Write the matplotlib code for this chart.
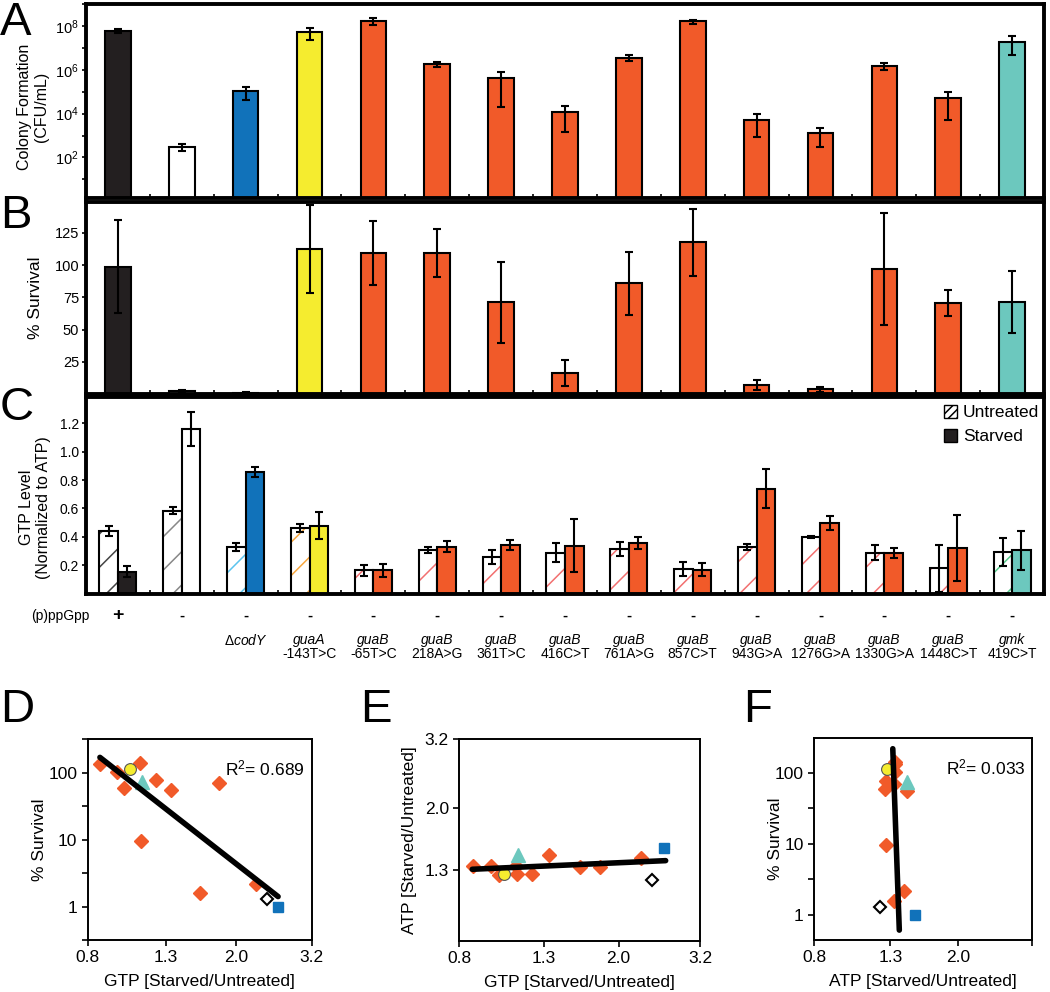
import numpy as np
import matplotlib
matplotlib.use('Agg')
import matplotlib.pyplot as plt
from matplotlib.patches import Patch
from matplotlib.ticker import FixedLocator, NullFormatter, NullLocator, FixedFormatter

plt.rcParams['font.family'] = ['Liberation Sans', 'DejaVu Sans']
plt.rcParams['mathtext.fontset'] = 'custom'
plt.rcParams['mathtext.rm'] = 'Liberation Sans'
plt.rcParams['mathtext.it'] = 'Liberation Sans:italic'
plt.rcParams['hatch.linewidth'] = 1.1

# strains (15)
genes = ['', '', r'$\Delta\mathit{codY}$', 'guaA'] + ['guaB'] * 10 + ['gmk']
mutations = ['', '', '', '-143T>C', '-65T>C', '218A>G', '361T>C', '416C>T', '761A>G',
             '857C>T', '943G>A', '1276G>A', '1330G>A', '1448C>T', '419C>T']
ppgpp = ['+'] + ['-'] * 14

# A: colony formation (CFU/mL)
cfu = [5.9e7, 3.0e2, 1.07e5, 5.2e7, 1.7e8, 1.8e6, 4.0e5, 1.15e4, 3.6e6, 1.6e8,
       5.3e3, 1.3e3, 1.5e6, 5.3e4, 1.9e7]
cfu_err = [1.1e7, 1.1e2, 6.5e4, 2.9e7, 5.5e7, 4.5e5, 3.8e5, 1.0e4, 1.1e6, 3.5e7,
           4.4e3, 1.0e3, 5.5e5, 4.8e4, 1.45e7]

# B: % survival
survival = [98.7, 2.2, 0.9, 112.4, 109.5, 109.5, 71.1, 16.5, 85.8, 117.8,
            7.2, 3.6, 97.1, 70.4, 71.4]
surv_err = [36, 0.6, 0.3, 34, 25, 18.5, 31.6, 10, 24.7, 26, 4, 1.8, 43.4, 10, 24]

# C: GTP level (normalized to ATP)
gtp_untr = [0.44, 0.585, 0.33, 0.463, 0.165, 0.308, 0.256, 0.289, 0.312, 0.174,
            0.327, 0.40, 0.289, 0.179, 0.296]
gtp_untr_err = [0.037, 0.023, 0.027, 0.03, 0.037, 0.022, 0.05, 0.067, 0.05, 0.05,
                0.022, 0.006, 0.052, 0.165, 0.098]
gtp_starv = [0.155, 1.162, 0.857, 0.479, 0.165, 0.331, 0.343, 0.338, 0.357, 0.169,
             0.74, 0.50, 0.287, 0.324, 0.305]
gtp_starv_err = [0.04, 0.12, 0.034, 0.095, 0.045, 0.037, 0.037, 0.185, 0.043, 0.045,
                 0.135, 0.048, 0.035, 0.233, 0.136]

# D-F scatter (guaB mutants)
gtp_ratio_o = [0.865, 0.958, 1.003, 1.106, 1.113, 1.218, 1.34, 1.60, 1.80, 2.27]
surv_o = [133, 103, 58.5, 141, 9.7, 77, 55, 1.58, 69.5, 2.16]
atp_ratio_o = [1.34, 1.34, 1.26, 1.34, 1.265, 1.265, 1.445, 1.33, 1.33, 1.42]
# other strains: guaA, gmk, (p)ppGpp0, codY
gtp_ratio_s = [1.037, 1.12, 2.42, 2.60]
surv_s = [113, 73, 1.3, 1.0]
atp_ratio_s = [1.27, 1.445, 1.22, 1.52]

fitD_x, fitD_y = [0.863, 2.6], [170, 1.41]
fitE_x, fitE_y = [0.862, 2.62], [1.31, 1.39]
fitF_x, fitF_y = [1.32, 1.376], [216, 0.615]

BLACK = '#231F20'
ORANGE = '#F15A29'
BLUE = '#1172BA'
YELLOW = '#F5EC2F'
TEAL = '#6CC8BE'
colors = [BLACK, 'white', BLUE, YELLOW] + [ORANGE] * 10 + [TEAL]
hatch_colors = ['#444444', '#888888', '#5BC4EE', '#F7A740'] + ['#F27070'] * 10 + ['#55C98A']

x = np.arange(len(genes))

fig = plt.figure(figsize=(10.5, 9.92), dpi=100)
axA = fig.add_axes([0.0819, 0.8004, 0.9124, 0.1956])
axB = fig.add_axes([0.0819, 0.6028, 0.9124, 0.1935])
axC = fig.add_axes([0.0819, 0.4015, 0.9124, 0.1983])


def style_top(ax):
    for s in ax.spines.values():
        s.set_linewidth(2.8)
    ax.set_xlim(-0.5, len(genes) - 0.5)
    ax.xaxis.set_major_locator(FixedLocator(x[:-1] + 0.5))
    ax.xaxis.set_major_formatter(NullFormatter())
    ax.tick_params(axis='x', direction='in', length=3, width=1.2)
    ax.tick_params(axis='y', direction='out', length=3, width=1.2, labelsize=10.5, pad=2)
    ax.tick_params(axis='y', which='minor', direction='out', length=3, width=1.2)


# A
axA.set_yscale('log')
axA.bar(x, cfu, width=0.4, color=colors, edgecolor='black', linewidth=1.5, zorder=2)
axA.errorbar(x, cfu, yerr=cfu_err, fmt='none', ecolor='black', elinewidth=1.5,
             capsize=3, capthick=1.5, zorder=3)
axA.set_ylim(10 ** 0.15, 1e9)
axA.yaxis.set_major_locator(FixedLocator([1e2, 1e4, 1e6, 1e8]))
axA.yaxis.set_minor_locator(FixedLocator([1e1, 1e3, 1e5, 1e7, 1e9]))
axA.yaxis.set_minor_formatter(NullFormatter())
style_top(axA)
axA.set_ylabel('Colony Formation\n(CFU/mL)', fontsize=11.5, linespacing=1.1)
axA.yaxis.set_label_coords(-0.039, 0.47)

# B
axB.bar(x, survival, width=0.4, color=colors, edgecolor='black', linewidth=1.5, zorder=2)
axB.errorbar(x, survival, yerr=surv_err, fmt='none', ecolor='black', elinewidth=1.5,
             capsize=3, capthick=1.5, zorder=3)
axB.set_ylim(0, 149)
axB.yaxis.set_major_locator(FixedLocator([25, 50, 75, 100, 125]))
style_top(axB)
axB.set_ylabel('% Survival', fontsize=12.5)
axB.yaxis.set_label_coords(-0.045, 0.5)

# C
w = 0.29
xu = x - w / 2
xs = x + w / 2
for i in range(len(x)):
    axC.bar(xu[i], gtp_untr[i], width=w, color='white', edgecolor=hatch_colors[i],
            hatch='/', linewidth=0, zorder=2)
axC.bar(xu, gtp_untr, width=w, color='none', edgecolor='black', linewidth=1.5, zorder=2)
axC.bar(xs, gtp_starv, width=w, color=colors, edgecolor='black', linewidth=1.5, zorder=2)
axC.errorbar(xu, gtp_untr, yerr=gtp_untr_err, fmt='none', ecolor='black', elinewidth=1.5,
             capsize=3, capthick=1.5, zorder=3)
axC.errorbar(xs, gtp_starv, yerr=gtp_starv_err, fmt='none', ecolor='black', elinewidth=1.5,
             capsize=3, capthick=1.5, zorder=3)
axC.set_ylim(0, 1.385)
axC.yaxis.set_major_locator(FixedLocator([0.2, 0.4, 0.6, 0.8, 1.0, 1.2]))
axC.yaxis.set_major_formatter(FixedFormatter(['0.2', '0.4', '0.6', '0.8', '1.0', '1.2']))
style_top(axC)
axC.tick_params(axis='y', labelsize=10)
axC.set_ylabel('GTP Level\n(Normalized to ATP)', fontsize=11.5, linespacing=1.1)
axC.yaxis.set_label_coords(-0.037, 0.44)
handles = [Patch(facecolor='white', edgecolor='black', hatch='////', linewidth=1),
           Patch(facecolor=BLACK, edgecolor='black', linewidth=1)]
axC.legend(handles, ['Untreated', 'Starved'], loc='upper right', bbox_to_anchor=(0.995, 0.96),
           frameon=False, fontsize=12.5, handlelength=0.75, handleheight=0.75,
           handletextpad=0.35, labelspacing=0.5, borderpad=0, borderaxespad=0)

tr = axC.get_xaxis_transform()
axC.text(-0.45, -0.113, '(p)ppGpp', transform=tr, ha='right', va='center', fontsize=10)
for i in range(len(x)):
    if ppgpp[i] == '+':
        axC.text(x[i], -0.113, '+', transform=tr, ha='center', va='center',
                 fontsize=14, fontweight='bold')
    else:
        axC.text(x[i], -0.11, '-', transform=tr, ha='center', va='center',
                 fontsize=11, fontweight='bold')
    if genes[i]:
        if genes[i].startswith('$'):
            axC.text(x[i], -0.236, genes[i], transform=tr, ha='center', va='center', fontsize=10)
        else:
            axC.text(x[i], -0.236, genes[i], transform=tr, ha='center', va='center',
                     fontsize=10, fontstyle='italic')
    if mutations[i]:
        axC.text(x[i], -0.305, mutations[i], transform=tr, ha='center', va='center', fontsize=10)


# bottom scatter panels
def scatter_panel(ax, xo, yo, xs_, ys_, fx, fy):
    ax.plot(xo, yo, linestyle='none', marker='D', ms=7, color=ORANGE, mec=ORANGE, zorder=2)
    ax.plot(xs_[0], ys_[0], linestyle='none', marker='o', ms=8.5, mfc=YELLOW, mec='#555555',
            mew=0.8, zorder=3)
    ax.plot(xs_[1], ys_[1], linestyle='none', marker='^', ms=10, color=TEAL, zorder=3)
    ax.plot(xs_[2], ys_[2], linestyle='none', marker='D', ms=6, mfc='white', mec='black',
            mew=1.5, zorder=3)
    ax.plot(xs_[3], ys_[3], linestyle='none', marker='s', ms=7, color=BLUE, zorder=3)
    ax.plot(fx, fy, color='black', linewidth=4, solid_capstyle='round', zorder=4)
    ax.set_xscale('log')
    ax.set_yscale('log')
    for s in ax.spines.values():
        s.set_linewidth(1.4)
    ax.tick_params(which='both', direction='out', length=4, width=1.2, labelsize=12.5)
    ax.xaxis.set_minor_locator(NullLocator())
    ax.yaxis.set_minor_locator(NullLocator())


axD = fig.add_axes([0.0835, 0.0524, 0.2133, 0.2023])
axE = fig.add_axes([0.4374, 0.0514, 0.2297, 0.2033])
axF = fig.add_axes([0.7755, 0.0524, 0.2070, 0.2033])

scatter_panel(axD, gtp_ratio_o, surv_o, gtp_ratio_s, surv_s, fitD_x, fitD_y)
axD.set_xlim(0.8, 3.2)
axD.set_ylim(10 ** -0.5, 10 ** 2.5)
axD.xaxis.set_major_locator(FixedLocator([0.8, 1.3, 2.0, 3.2]))
axD.xaxis.set_major_formatter(FixedFormatter(['0.8', '1.3', '2.0', '3.2']))
axD.yaxis.set_major_locator(FixedLocator([1, 10, 100]))
axD.yaxis.set_major_formatter(FixedFormatter(['1', '10', '100']))
axD.yaxis.set_minor_locator(FixedLocator([10 ** -0.5, 10 ** 0.5, 10 ** 1.5, 10 ** 2.5]))
axD.yaxis.set_minor_formatter(NullFormatter())
axD.tick_params(which='minor', direction='out', length=4, width=1.2)
axD.set_xlabel('GTP [Starved/Untreated]', fontsize=12.5)
axD.set_ylabel('% Survival', fontsize=12.5)
axD.xaxis.set_label_coords(0.5, -0.17)
axD.yaxis.set_label_coords(-0.18, 0.5)
axD.text(0.97, 0.855, r'R$^2$= 0.689', transform=axD.transAxes, ha='right', va='center',
         fontsize=12.5)

scatter_panel(axE, gtp_ratio_o, atp_ratio_o, gtp_ratio_s, atp_ratio_s, fitE_x, fitE_y)
axE.set_xlim(0.8, 3.2)
axE.set_ylim(0.8, 3.2)
axE.xaxis.set_major_locator(FixedLocator([0.8, 1.3, 2.0, 3.2]))
axE.xaxis.set_major_formatter(FixedFormatter(['0.8', '1.3', '2.0', '3.2']))
axE.yaxis.set_major_locator(FixedLocator([1.3, 2.0, 3.2]))
axE.yaxis.set_major_formatter(FixedFormatter(['1.3', '2.0', '3.2']))
axE.set_xlabel('GTP [Starved/Untreated]', fontsize=12.5)
axE.set_ylabel('ATP [Starved/Untreated]', fontsize=12.5)
axE.xaxis.set_label_coords(0.5, -0.17)
axE.yaxis.set_label_coords(-0.175, 0.5)

scatter_panel(axF, atp_ratio_o, surv_o, atp_ratio_s, surv_s, fitF_x, fitF_y)
axF.set_xlim(0.8, 3.2)
axF.set_ylim(10 ** -0.35, 10 ** 2.48)
axF.xaxis.set_major_locator(FixedLocator([0.8, 1.3, 2.0, 3.2]))
axF.xaxis.set_major_formatter(FixedFormatter(['0.8', '1.3', '2.0', '']))
axF.yaxis.set_major_locator(FixedLocator([1, 10, 100]))
axF.yaxis.set_major_formatter(FixedFormatter(['1', '10', '100']))
axF.yaxis.set_minor_locator(FixedLocator([10 ** 0.5, 10 ** 1.5]))
axF.yaxis.set_minor_formatter(NullFormatter())
axF.tick_params(which='minor', direction='out', length=4, width=1.2)
axF.set_xlabel('ATP [Starved/Untreated]', fontsize=12.5)
axF.set_ylabel('% Survival', fontsize=12.5)
axF.xaxis.set_label_coords(0.5, -0.17)
axF.yaxis.set_label_coords(-0.144, 0.5)
axF.text(0.97, 0.855, r'R$^2$= 0.033', transform=axF.transAxes, ha='right', va='center',
         fontsize=12.5)

# panel letters
for lx, ly, letter in [(0.0, 0.9647, 'A'), (0.0, 0.770, 'B'), (0.0, 0.5766, 'C'),
                       (0.0, 0.2725, 'D'), (0.343, 0.2725, 'E'), (0.7076, 0.2725, 'F')]:
    fig.text(lx, ly, letter, fontsize=34, va='baseline', ha='left')

fig.savefig('out.png', dpi=100)
